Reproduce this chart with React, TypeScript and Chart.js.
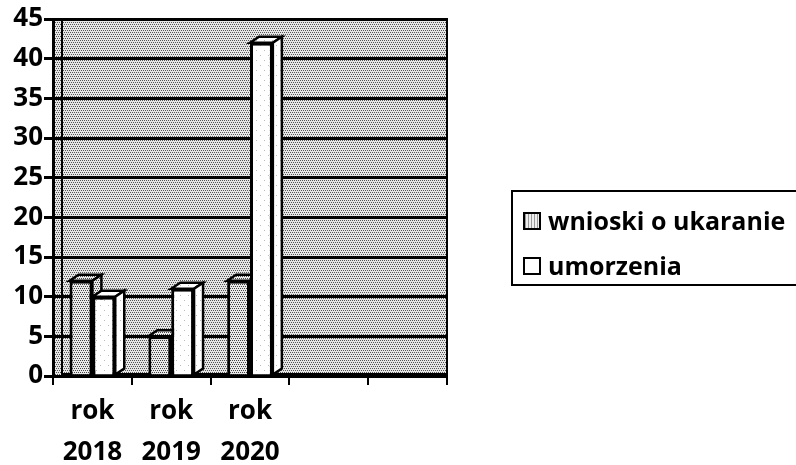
import React, { useEffect, useRef } from "react";
import { Chart, registerables } from "chart.js";

Chart.register(...registerables);

const categories: (string | string[])[] = [["rok", "2018"], ["rok", "2019"], ["rok", "2020"], "", ""];
const wnioski = [12, 5, 12, null, null];
const umorzenia = [10, 11, 42, null, null];
const yTicks = [0, 5, 10, 15, 20, 25, 30, 35, 40, 45];
const seriesNames = ["wnioski o ukaranie", "umorzenia"];

const FONT = "'Open Sans', 'DejaVu Sans', sans-serif";

function makePattern(bg: string, dot: string, pts: number[][], w: number, h: number): CanvasPattern | string {
  const c = document.createElement("canvas");
  c.width = w;
  c.height = h;
  const x = c.getContext("2d");
  if (!x) return bg;
  x.fillStyle = bg;
  x.fillRect(0, 0, w, h);
  x.fillStyle = dot;
  for (const [px, py] of pts) x.fillRect(px, py, 1, 1);
  const p = x.createPattern(c, "repeat");
  return p || bg;
}

export default function App() {
  const ref = useRef<HTMLCanvasElement>(null);
  useEffect(() => {
    if (!ref.current) return;
    const dense = [[0, 0], [2, 0], [4, 0], [1, 2], [3, 2], [5, 2]];
    const wallPat = makePattern("#e6e6e6", "#555", dense, 6, 4);
    const barPat = makePattern("#eaeaea", "#444", dense, 6, 4);
    const whitePat = makePattern("#ffffff", "#bbb", [[0, 0], [4, 5]], 8, 10);
    const DX = 9;
    const DY = 6;
    const wallPlugin = {
      id: "wall",
      beforeDraw(chart: any) {
        const { ctx, chartArea } = chart;
        ctx.save();
        ctx.fillStyle = wallPat;
        ctx.fillRect(chartArea.left, chartArea.top, chartArea.right - chartArea.left, chartArea.bottom - chartArea.top);
        ctx.strokeStyle = "#000";
        ctx.lineWidth = 2;
        ctx.strokeRect(chartArea.left + DX, chartArea.top, chartArea.right - chartArea.left - DX, chartArea.bottom - chartArea.top - 2);
        ctx.restore();
      },
      beforeDatasetsDraw(chart: any) {
        const { ctx } = chart;
        ctx.save();
        ctx.lineWidth = 2.5;
        ctx.strokeStyle = "#000";
        chart.data.datasets.forEach((ds: any, di: number) => {
          const meta = chart.getDatasetMeta(di);
          meta.data.forEach((bar: any, i: number) => {
            if (ds.data[i] == null) return;
            const { x, y, base, width } = bar.getProps(["x", "y", "base", "width"], true);
            const x1 = x - width / 2;
            const x2 = x + width / 2;
            ctx.fillStyle = ds.backgroundColor;
            ctx.beginPath();
            ctx.moveTo(x1, y);
            ctx.lineTo(x1 + DX, y - DY);
            ctx.lineTo(x2 + DX, y - DY);
            ctx.lineTo(x2, y);
            ctx.closePath();
            ctx.fill();
            ctx.stroke();
            ctx.beginPath();
            ctx.moveTo(x2, y);
            ctx.lineTo(x2 + DX, y - DY);
            ctx.lineTo(x2 + DX, base - DY);
            ctx.lineTo(x2, base);
            ctx.closePath();
            ctx.fill();
            ctx.stroke();
          });
        });
        ctx.restore();
      },
    };
    const chart = new Chart(ref.current, {
      type: "bar",
      data: {
        labels: categories,
        datasets: [
          {
            label: seriesNames[0],
            data: wnioski,
            backgroundColor: barPat as any,
            borderColor: "#000",
            borderWidth: 3,
            categoryPercentage: 0.58,
            barPercentage: 1,
          },
          {
            label: seriesNames[1],
            data: umorzenia,
            backgroundColor: whitePat as any,
            borderColor: "#000",
            borderWidth: 3,
            categoryPercentage: 0.58,
            barPercentage: 1,
          },
        ],
      },
      options: {
        animation: false,
        responsive: false,
        layout: { padding: { top: 19, right: 349, left: 0, bottom: 0 } },
        plugins: { legend: { display: false }, tooltip: { enabled: false } },
        scales: {
          x: {
            grid: { display: true, drawOnChartArea: false, drawTicks: true, tickLength: 9, color: "#000", lineWidth: 2, offset: true },
            border: { display: true, color: "#000", width: 3 },
            ticks: { color: "#000", font: { family: FONT, size: 26, weight: "bold", lineHeight: 1.58 }, padding: 6, maxRotation: 0, autoSkip: false },
            afterFit(s: any) { s.height = 89; },
          },
          y: {
            min: 0,
            max: 45,
            afterBuildTicks(s: any) { s.ticks = yTicks.map((v) => ({ value: v })); },
            grid: { color: "#000", lineWidth: 3, tickLength: 9 },
            border: { display: true, color: "#000", width: 3 },
            ticks: { color: "#000", font: { family: FONT, size: 26, weight: "bold" }, padding: 1 },
            afterFit(s: any) { s.width = 53; },
          },
        },
      },
      plugins: [wallPlugin],
    });
    return () => chart.destroy();
  }, []);

  const sw = (bg: string) => ({
    display: "inline-block",
    width: 14,
    height: 14,
    border: "2px solid #000",
    background: bg,
    marginRight: 7,
    verticalAlign: "middle",
    position: "relative" as const,
    top: -2,
  });

  return (
    <div style={{ position: "fixed", left: 0, top: 0, width: 796, height: 465, background: "#fff", overflow: "hidden" }}>
      <canvas ref={ref} width={796} height={465} style={{ position: "absolute", left: 0, top: 0 }} />
      <div
        style={{
          position: "absolute",
          left: 511,
          top: 190,
          width: 300,
          height: 96,
          border: "2px solid #000",
          fontFamily: FONT,
          fontWeight: "bold",
          fontSize: 25,
          color: "#000",
          paddingLeft: 10,
          paddingTop: 6,
          boxSizing: "border-box",
          whiteSpace: "nowrap",
        }}
      >
        <div style={{ height: 45, lineHeight: "45px" }}>
          <span style={sw("repeating-linear-gradient(90deg,#999 0 1px,#eee 1px 3px)")} />
          {seriesNames[0]}
        </div>
        <div style={{ height: 45, lineHeight: "45px" }}>
          <span style={sw("#fff")} />
          {seriesNames[1]}
        </div>
      </div>
    </div>
  );
}
